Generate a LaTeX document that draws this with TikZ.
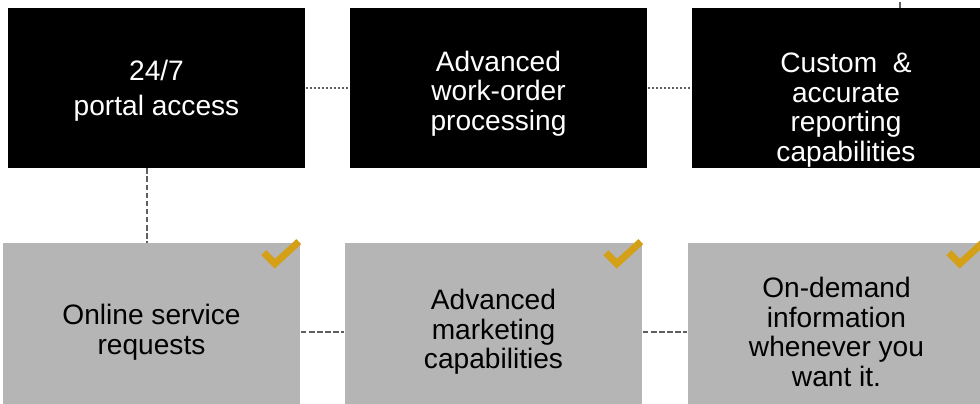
\documentclass[tikz,border=0pt]{standalone}
\usepackage{fontspec}
\setmainfont{Liberation Sans}
\definecolor{tickgold}{RGB}{212,160,23}
\definecolor{boxgrey}{RGB}{181,181,181}
\definecolor{linkgrey}{RGB}{95,95,95}
\tikzset{
  blackbox/.style={fill=black, text=white, minimum width=5.96cm, minimum height=3.2cm,
    align=center, inner sep=0pt, font=\fontsize{16}{16.9}\selectfont},
  greybox/.style={fill=boxgrey, text=black, minimum width=5.96cm, minimum height=3.56cm,
    align=center, inner sep=0pt, font=\fontsize{16}{16.9}\selectfont},
  dotlink/.style={draw=linkgrey, line width=1.1pt, dash pattern=on 1.1pt off 1.2pt},
  dashlink/.style={draw=linkgrey, line width=1.1pt, dash pattern=on 3.2pt off 1.4pt},
  tick/.style={draw=tickgold, line width=4pt, line cap=butt, line join=miter}
}

\begin{document}
\begin{tikzpicture}[x=0.02cm, y=-0.02cm]
	\useasboundingbox (0,0) rectangle (980,403);
	\clip (0,0) rectangle (980,403);

				% top row
	  			\node[blackbox] 	(portal)    at (156.5,88) 		{\rule{0pt}{15pt}24/7\\[3pt]portal access};
				\node[blackbox] 	(workorder) at (498.5,88) 		{\rule{0pt}{18pt}Advanced\\work-order\\processing};
				\node[blackbox] 	(reporting) at (841,88) 		{};
				\node[text=white, align=center, inner sep=0pt, font=\fontsize{16}{16.9}\selectfont]
									(reptext)   at (846,110) 		{Custom\ \ \&\\accurate\\reporting\\capabilities};
				\coordinate (up) at (900,0);

				% bottom row
				\node[greybox] 	(service)   at (151.5,332) 		{Online service\\requests};
				\node[greybox] 	(marketing) at (493.5,332) 		{Advanced\\marketing\\capabilities};
				\node[greybox] 	(ondemand)  at (836.5,332) 		{On-demand\\information\\whenever you\\want it.};

				\path[dotlink]
				(portal) edge (workorder)
				(workorder) edge (reporting);
				\path[dashlink]
				(service) edge (marketing)
				(marketing) edge (ondemand)
				(portal.south -| 147,0) edge (service.north -| 147,0)
				(reporting.north -| up) edge (up);

				\foreach \g in {service,marketing,ondemand}
					\draw[tick] ([shift={(-37,10)}]\g.north east) -- ++(11,11) -- ++(24,-22);

\end{tikzpicture}
\end{document}
